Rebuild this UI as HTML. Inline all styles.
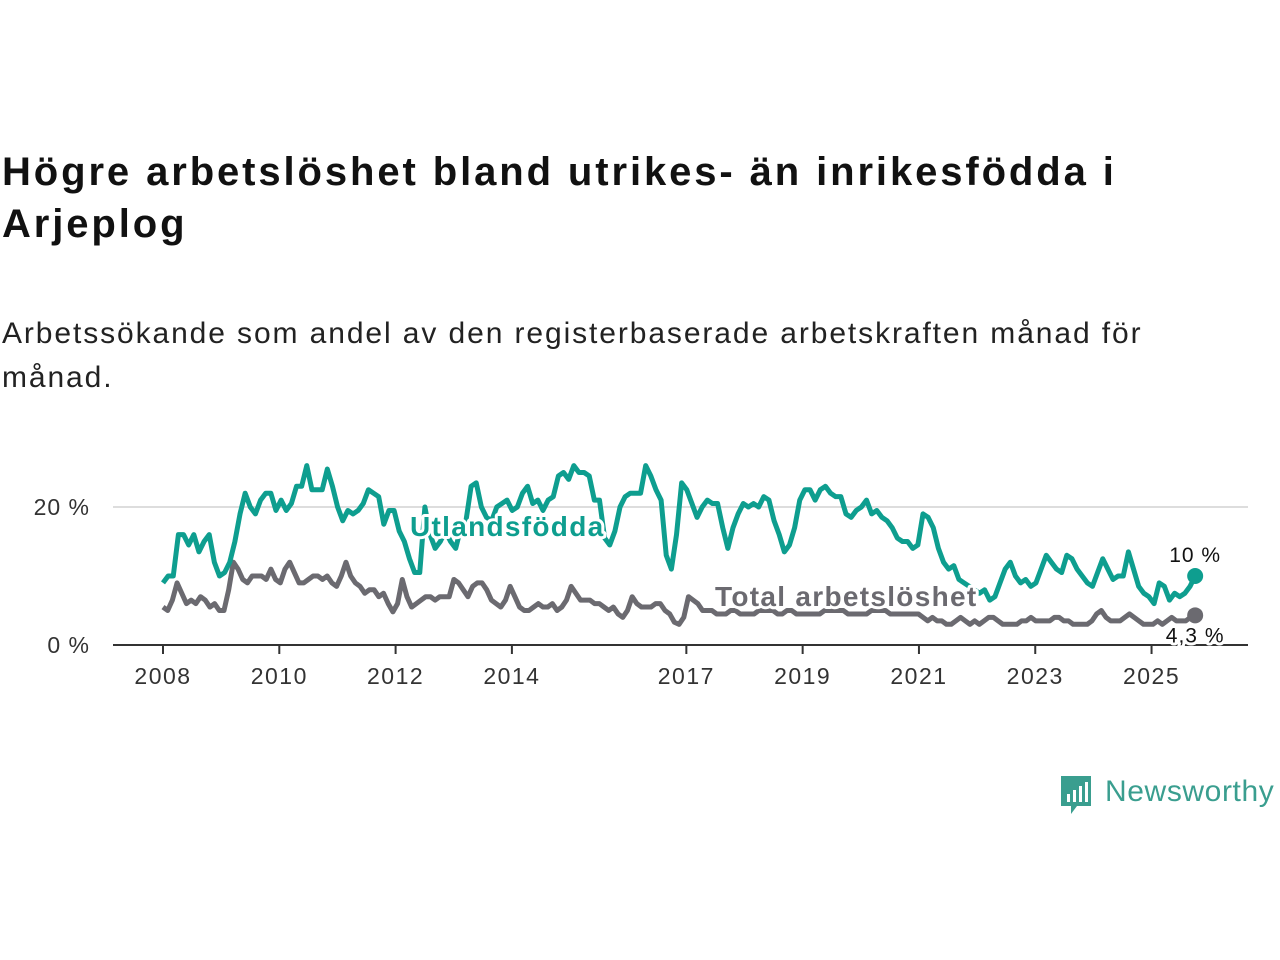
<!DOCTYPE html>
<html><head><meta charset="utf-8"><style>
body{margin:0;width:1280px;height:960px;background:#fff;font-family:"Liberation Sans",sans-serif;overflow:hidden;position:relative}
h1{position:absolute;left:2px;top:146px;margin:0;font-size:40px;letter-spacing:2.9px;line-height:52px;font-weight:bold;color:#111;width:1270px;white-space:nowrap}
p{position:absolute;left:2px;top:312px;margin:0;font-size:30px;letter-spacing:1.9px;line-height:44px;color:#222;width:1270px;white-space:nowrap}
</style></head><body>
<h1>Högre arbetslöshet bland utrikes- än inrikesfödda i<br>Arjeplog</h1>
<p>Arbetssökande som andel av den registerbaserade arbetskraften månad för<br>månad.</p>
<svg id="chart" width="1280" height="960" style="position:absolute;left:0;top:0"></svg>
<div style="position:absolute;left:1059px;top:774px;display:flex;align-items:center">
<svg width="34" height="44"><path d="M2 2h30v30h-14l-6 8v-8h-10z" fill="#3a9e8f"/><rect x="8" y="20" width="3" height="8" fill="#fff"/><rect x="14" y="16" width="3" height="12" fill="#fff"/><rect x="20" y="12" width="3" height="16" fill="#fff"/><rect x="26" y="8" width="3" height="20" fill="#fff"/></svg>
<span style="font-size:30px;letter-spacing:0.6px;color:#3a9e8f;margin-left:12px;margin-top:-8px">Newsworthy</span></div>
<script>
const xTicks=[2008,2010,2012,2014,2017,2019,2021,2023,2025];
const yTicks=[0,20];
const startYear=2008.0, endYear=2025.75;
const utland=[9,10,10,16,16,14.5,16,13.5,15,16,12,10,10.5,12,15,19,22,20,19,21,22,22,19.5,21,19.5,20.5,23,23,26,22.5,22.5,22.5,25.5,23,20,18,19.5,19,19.5,20.5,22.5,22,21.5,17.5,19.5,19.5,16.5,15,12.5,10.5,10.5,20,16,14,15,16.5,15,14,17,18,23,23.5,20,18.5,18,20,20.5,21,19.5,20,22,23,20.5,21,19.5,21,21.5,24.5,25,24,26,25,25,24.5,21,21,15.5,14.5,16.5,20,21.5,22,22,22,26,24.5,22.5,21,13,11,16,23.5,22.5,20.5,18.5,20,21,20.5,20.5,17,14,17,19,20.5,20,20.5,20,21.5,21,18,16,13.5,14.5,17,21,22.5,22.5,21,22.5,23,22,21.5,21.5,19,18.5,19.5,20,21,19,19.5,18.5,18,17,15.5,15,15,14,14.5,19,18.5,17,14,12,11,11.5,9.5,9,8.5,8,7.5,8,6.5,7,9,11,12,10,9,9.5,8.5,9,11,13,12,11,10.5,13,12.5,11,10,9,8.5,10.5,12.5,11,9.5,10,10,13.5,11,8.5,7.5,7,6,9,8.5,6.5,7.5,7,7.5,8.5,10];
const total=[5.5,5,6.5,9,7.5,6,6.5,6,7,6.5,5.5,6,5,5,8,12,11,9.5,9,10,10,10,9.5,11,9.5,9,11,12,10.5,9,9,9.5,10,10,9.5,10,9,8.5,10,12,10,9,8.5,7.5,8,8,7,7.5,6,4.8,6,9.5,7,5.5,6,6.5,7,7,6.5,7,7,7,9.5,9,8,7,8.5,9,9,8,6.5,6,5.5,6.5,8.5,7,5.5,5,5,5.5,6,5.5,5.5,6,5,5.5,6.5,8.5,7.5,6.5,6.5,6.5,6,6,5.5,5,5.5,4.5,4,5,7,6,5.5,5.5,5.5,6,6,5,4.5,3.3,3,4,7,6.5,6,5,5,5,4.5,4.5,4.5,5,5,4.5,4.5,4.5,4.5,5,5,5,5,4.5,4.5,5,5,4.5,4.5,4.5,4.5,4.5,4.5,5,5,5,5,5,4.5,4.5,4.5,4.5,4.5,5,5,5,5,4.5,4.5,4.5,4.5,4.5,4.5,4.5,4,3.5,4,3.5,3.5,3,3,3.5,4,3.5,3,3.5,3,3.5,4,4,3.5,3,3,3,3,3.5,3.5,4,3.5,3.5,3.5,3.5,4,4,3.5,3.5,3,3,3,3,3.5,4.5,5,4,3.5,3.5,3.5,4,4.5,4,3.5,3,3,3,3.5,3,3.5,4,3.5,3.5,3.5,4,4.3];
const NS='http://www.w3.org/2000/svg',svg=document.getElementById('chart');
const X=y=>163+(y-2008)*58.15, Y=v=>645-v*6.9;
function mk(t,a){const e=document.createElementNS(NS,t);for(const k in a)e.setAttribute(k,a[k]);svg.appendChild(e);return e;}
yTicks.forEach(v=>{if(v>0){const g=mk('line',{x1:113,x2:1248,y1:Y(v),y2:Y(v),stroke:'#ddd','stroke-width':2});

}
const t=mk('text',{x:90,y:Y(v)+8,'text-anchor':'end','font-size':23,'letter-spacing':1,fill:'#333'});t.textContent=v+' %';

});
const ax=mk('line',{x1:113,x2:1248,y1:645,y2:645,stroke:'#333','stroke-width':2});


xTicks.forEach(yr=>{const l=mk('line',{x1:X(yr),x2:X(yr),y1:645,y2:654,stroke:'#333','stroke-width':2});


const t=mk('text',{x:X(yr),y:684,'text-anchor':'middle','font-size':23,'letter-spacing':1.5,fill:'#333'});t.textContent=yr;

});
function series(arr,col,name){const n=arr.length;const pts=arr.map((v,i)=>[X(startYear+i*(endYear-startYear)/(n-1)),Y(v)]);
const p=mk('polyline',{points:pts.map(q=>q.join(',')).join(' '),fill:'none',stroke:col,'stroke-width':5,'stroke-linejoin':'round'});


const c=mk('circle',{cx:pts[n-1][0],cy:pts[n-1][1],r:8,fill:col});


return pts[n-1];}
const e1=series(total,'#6b6a70','total-line');
const e2=series(utland,'#0e9e8f','utland-line');
function lab(x,y,txt,col,size,w,anchor,name,ls){const t=mk('text',{x:x,y:y,'font-size':size,'font-weight':w,'letter-spacing':ls,fill:col,stroke:'#fff','stroke-width':6,'paint-order':'stroke','stroke-linejoin':'round','text-anchor':anchor});t.textContent=txt;

}
lab(410,536,'Utlandsfödda','#0e9e8f',28,'bold','start','utland-label',1.3);
lab(715,606,'Total arbetslöshet','#6b6a70',28,'bold','start','total-label',1.3);
lab(e2[0],e2[1]-14,'10 %','#111',21,'normal','middle','utland-end-value',1);
lab(e1[0],e1[1]+27,'4,3 %','#111',21,'normal','middle','total-end-value',1);
</script>
</body></html>
